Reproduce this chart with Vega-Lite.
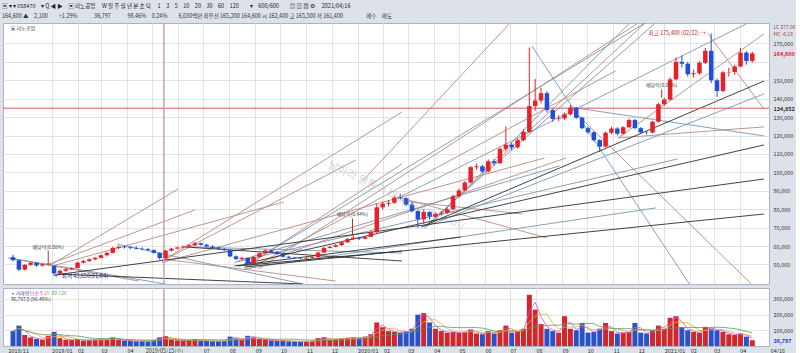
{
"$schema": "https://vega.github.io/schema/vega-lite/v6.json",
"background": "#dde2ea",
"padding": {"left": 2, "right": 0, "top": 3, "bottom": 0},
"spacing": 0,
"title": {"text": "▣ ▾ ▾ 058470　▾ Q ◀ ▶　▣ 리노공업　 W 일 주 월 년 분 초 틱　 1　3　5　10　20　30　60　120　　▾　600/600　　▤ ▥ ▦ ⚙　 2021/04/16", "subtitle": "164,600 ▲　2,100　　+1.29%　　　36,797　　　98.46%　0.24%　　6,030백만 최우선 165,200 164,600 시 162,400 고 165,500 저 161,400　　　　 매수　매도", "anchor": "start", "frame": "bounds", "fontSize": 5.5, "subtitleFontSize": 5.5, "fontWeight": "normal", "color": "#222", "subtitleColor": "#333", "offset": 2, "subtitlePadding": 5, "font": "Noto Sans CJK KR", "subtitleFont": "Noto Sans CJK KR"},
"config": {
  "font": "Noto Sans CJK KR",
  "view": {"fill": "#ffffff", "stroke": "#a9b3c2"},
  "axis": {"labelFontSize": 5.5, "labelColor": "#333", "gridColor": "#e3e3e3", "domain": false, "ticks": false, "labelFont": "Noto Sans CJK KR", "labelOverlap": false}
},
"datasets": {
"px": [
{"d":"2018-11-16","o":54000,"h":55200,"l":51800,"c":52300,"v":95000},
{"d":"2018-11-23","o":52300,"h":52800,"l":46500,"c":47200,"v":130000},
{"d":"2018-11-30","o":47200,"h":50200,"l":46800,"c":49800,"v":70000},
{"d":"2018-12-07","o":49800,"h":51500,"l":49200,"c":50900,"v":55000},
{"d":"2018-12-14","o":50900,"h":51200,"l":48900,"c":49400,"v":45000},
{"d":"2018-12-21","o":49400,"h":50600,"l":48800,"c":50100,"v":40000},
{"d":"2018-12-28","o":50100,"h":51800,"l":49600,"c":50500,"v":65000},
{"d":"2019-01-04","o":49200,"h":49500,"l":43650,"c":45200,"v":90000},
{"d":"2019-01-11","o":45200,"h":47200,"l":44800,"c":46600,"v":50000},
{"d":"2019-01-18","o":46600,"h":48100,"l":46000,"c":47400,"v":40000},
{"d":"2019-01-25","o":47400,"h":48600,"l":46900,"c":48100,"v":38000},
{"d":"2019-02-01","o":48100,"h":51500,"l":47800,"c":51000,"v":45000},
{"d":"2019-02-08","o":51000,"h":52400,"l":50500,"c":51900,"v":35000},
{"d":"2019-02-15","o":51900,"h":53300,"l":51400,"c":52800,"v":38000},
{"d":"2019-02-22","o":52800,"h":54100,"l":52300,"c":53600,"v":40000},
{"d":"2019-03-01","o":53600,"h":55400,"l":53200,"c":55000,"v":42000},
{"d":"2019-03-08","o":55000,"h":56800,"l":54300,"c":56300,"v":40000},
{"d":"2019-03-15","o":56300,"h":59600,"l":56000,"c":59000,"v":55000},
{"d":"2019-03-22","o":59000,"h":60300,"l":58400,"c":59600,"v":40000},
{"d":"2019-03-29","o":59600,"h":60200,"l":58700,"c":59300,"v":35000},
{"d":"2019-04-05","o":59300,"h":60000,"l":58300,"c":58900,"v":33000},
{"d":"2019-04-12","o":59000,"h":59800,"l":58100,"c":58600,"v":30000},
{"d":"2019-04-19","o":58600,"h":59300,"l":57700,"c":58300,"v":32000},
{"d":"2019-04-26","o":58300,"h":58900,"l":57200,"c":57800,"v":30000},
{"d":"2019-05-03","o":57800,"h":58200,"l":55800,"c":56300,"v":38000},
{"d":"2019-05-10","o":56300,"h":56700,"l":52600,"c":53500,"v":55000},
{"d":"2019-05-17","o":53500,"h":57900,"l":53000,"c":57500,"v":62000},
{"d":"2019-05-24","o":57500,"h":59000,"l":57100,"c":58600,"v":40000},
{"d":"2019-05-31","o":58600,"h":59700,"l":58200,"c":59200,"v":35000},
{"d":"2019-06-07","o":59200,"h":60200,"l":58800,"c":59700,"v":33000},
{"d":"2019-06-14","o":59700,"h":61000,"l":59300,"c":60400,"v":38000},
{"d":"2019-06-21","o":60400,"h":62200,"l":60000,"c":61500,"v":45000},
{"d":"2019-06-28","o":61500,"h":61900,"l":60200,"c":60700,"v":34000},
{"d":"2019-07-05","o":60700,"h":61200,"l":59300,"c":59800,"v":32000},
{"d":"2019-07-12","o":59800,"h":60400,"l":58600,"c":59100,"v":30000},
{"d":"2019-07-19","o":59100,"h":59700,"l":58000,"c":58500,"v":31000},
{"d":"2019-07-26","o":58500,"h":58900,"l":57300,"c":57800,"v":33000},
{"d":"2019-08-02","o":57800,"h":58000,"l":53900,"c":54400,"v":60000},
{"d":"2019-08-09","o":54400,"h":54900,"l":52400,"c":53000,"v":48000},
{"d":"2019-08-16","o":53000,"h":54100,"l":52600,"c":53600,"v":40000},
{"d":"2019-08-23","o":53600,"h":53900,"l":49800,"c":50500,"v":65000},
{"d":"2019-08-30","o":50500,"h":54500,"l":50200,"c":54000,"v":55000},
{"d":"2019-09-06","o":54000,"h":56500,"l":53700,"c":56100,"v":45000},
{"d":"2019-09-13","o":56100,"h":58200,"l":55800,"c":57600,"v":40000},
{"d":"2019-09-20","o":57600,"h":58100,"l":56400,"c":56900,"v":35000},
{"d":"2019-09-27","o":56900,"h":57300,"l":55300,"c":55700,"v":33000},
{"d":"2019-10-04","o":55700,"h":56000,"l":53800,"c":54200,"v":36000},
{"d":"2019-10-11","o":54200,"h":54700,"l":53200,"c":53700,"v":30000},
{"d":"2019-10-18","o":53700,"h":54200,"l":52900,"c":53400,"v":28000},
{"d":"2019-10-25","o":53400,"h":53900,"l":52700,"c":53200,"v":27000},
{"d":"2019-11-01","o":53200,"h":54100,"l":52800,"c":53600,"v":30000},
{"d":"2019-11-08","o":53600,"h":54500,"l":53300,"c":54000,"v":32000},
{"d":"2019-11-15","o":54000,"h":57000,"l":53800,"c":56500,"v":50000},
{"d":"2019-11-22","o":56500,"h":59500,"l":56200,"c":59000,"v":55000},
{"d":"2019-11-29","o":59000,"h":60200,"l":58600,"c":59600,"v":40000},
{"d":"2019-12-06","o":59600,"h":61000,"l":59200,"c":60500,"v":42000},
{"d":"2019-12-13","o":60500,"h":62500,"l":60100,"c":62000,"v":48000},
{"d":"2019-12-20","o":62000,"h":64300,"l":61700,"c":63800,"v":52000},
{"d":"2019-12-27","o":63800,"h":65600,"l":63200,"c":64500,"v":55000},
{"d":"2020-01-03","o":64500,"h":65000,"l":63300,"c":64000,"v":50000},
{"d":"2020-01-10","o":64000,"h":65600,"l":63600,"c":65000,"v":60000},
{"d":"2020-01-17","o":65000,"h":68200,"l":64700,"c":67500,"v":75000},
{"d":"2020-01-24","o":67500,"h":83000,"l":67200,"c":81000,"v":150000},
{"d":"2020-01-31","o":81000,"h":84200,"l":79800,"c":83000,"v":120000},
{"d":"2020-02-07","o":83000,"h":85000,"l":81500,"c":83500,"v":95000},
{"d":"2020-02-14","o":83500,"h":87300,"l":83000,"c":86300,"v":90000},
{"d":"2020-02-21","o":86300,"h":88500,"l":85200,"c":86000,"v":85000},
{"d":"2020-02-28","o":86000,"h":86600,"l":81800,"c":82500,"v":95000},
{"d":"2020-03-06","o":82500,"h":84000,"l":78200,"c":79000,"v":110000},
{"d":"2020-03-13","o":79000,"h":79500,"l":70000,"c":74500,"v":200000},
{"d":"2020-03-20","o":74500,"h":79800,"l":72000,"c":78500,"v":210000},
{"d":"2020-03-27","o":78500,"h":79000,"l":74300,"c":76000,"v":150000},
{"d":"2020-04-03","o":76000,"h":78300,"l":75200,"c":77500,"v":110000},
{"d":"2020-04-10","o":77500,"h":79000,"l":76600,"c":78000,"v":95000},
{"d":"2020-04-17","o":78000,"h":80800,"l":77400,"c":80000,"v":85000},
{"d":"2020-04-24","o":80000,"h":87800,"l":79600,"c":87000,"v":90000},
{"d":"2020-05-01","o":87000,"h":91000,"l":86300,"c":90200,"v":85000},
{"d":"2020-05-08","o":90200,"h":95200,"l":89800,"c":94500,"v":90000},
{"d":"2020-05-15","o":94500,"h":103500,"l":94000,"c":102800,"v":105000},
{"d":"2020-05-22","o":102800,"h":104800,"l":101500,"c":103300,"v":80000},
{"d":"2020-05-29","o":103300,"h":104000,"l":99500,"c":100500,"v":75000},
{"d":"2020-06-05","o":100500,"h":107000,"l":100000,"c":106000,"v":95000},
{"d":"2020-06-12","o":106000,"h":107200,"l":103800,"c":105000,"v":80000},
{"d":"2020-06-19","o":105000,"h":113500,"l":104500,"c":112800,"v":100000},
{"d":"2020-06-26","o":112800,"h":125000,"l":111500,"c":115000,"v":130000},
{"d":"2020-07-03","o":115000,"h":116000,"l":112000,"c":113600,"v":85000},
{"d":"2020-07-10","o":113600,"h":118500,"l":113000,"c":117500,"v":90000},
{"d":"2020-07-17","o":117500,"h":123500,"l":116800,"c":122000,"v":110000},
{"d":"2020-07-24","o":122000,"h":167800,"l":121500,"c":136000,"v":327000},
{"d":"2020-07-31","o":136000,"h":150700,"l":133500,"c":139000,"v":232000},
{"d":"2020-08-07","o":139000,"h":146000,"l":137500,"c":143000,"v":140000},
{"d":"2020-08-14","o":143000,"h":144000,"l":132500,"c":133800,"v":110000},
{"d":"2020-08-21","o":133800,"h":134500,"l":127500,"c":129000,"v":95000},
{"d":"2020-08-28","o":129000,"h":131000,"l":127800,"c":129300,"v":85000},
{"d":"2020-09-04","o":129300,"h":132500,"l":128500,"c":131500,"v":190000},
{"d":"2020-09-11","o":131500,"h":136500,"l":130800,"c":135000,"v":110000},
{"d":"2020-09-18","o":135000,"h":135600,"l":129000,"c":129700,"v":100000},
{"d":"2020-09-25","o":129700,"h":130300,"l":123500,"c":124000,"v":147000},
{"d":"2020-10-02","o":124000,"h":124800,"l":121000,"c":121800,"v":85000},
{"d":"2020-10-09","o":121800,"h":122300,"l":116800,"c":117500,"v":90000},
{"d":"2020-10-16","o":117500,"h":118000,"l":111000,"c":114000,"v":110000},
{"d":"2020-10-23","o":114000,"h":122200,"l":113500,"c":121500,"v":147000},
{"d":"2020-10-30","o":121500,"h":124800,"l":120800,"c":123800,"v":95000},
{"d":"2020-11-06","o":123800,"h":124500,"l":120200,"c":121000,"v":80000},
{"d":"2020-11-13","o":121000,"h":125000,"l":120500,"c":124500,"v":85000},
{"d":"2020-11-20","o":124500,"h":129200,"l":124000,"c":128400,"v":90000},
{"d":"2020-11-27","o":128400,"h":129000,"l":123500,"c":124000,"v":147000},
{"d":"2020-12-04","o":124000,"h":124600,"l":121000,"c":121700,"v":85000},
{"d":"2020-12-11","o":121700,"h":122500,"l":120500,"c":121600,"v":80000},
{"d":"2020-12-18","o":121600,"h":128000,"l":121200,"c":127500,"v":100000},
{"d":"2020-12-25","o":127500,"h":137800,"l":127000,"c":137000,"v":130000},
{"d":"2021-01-01","o":137000,"h":140500,"l":136000,"c":139500,"v":110000},
{"d":"2021-01-08","o":139500,"h":151500,"l":139000,"c":150500,"v":180000},
{"d":"2021-01-15","o":150500,"h":162500,"l":150000,"c":160000,"v":190000},
{"d":"2021-01-22","o":160000,"h":163500,"l":157000,"c":159000,"v":120000},
{"d":"2021-01-29","o":159000,"h":160000,"l":152000,"c":153300,"v":100000},
{"d":"2021-02-05","o":153300,"h":155800,"l":151500,"c":153800,"v":90000},
{"d":"2021-02-12","o":153800,"h":160500,"l":153000,"c":159500,"v":85000},
{"d":"2021-02-19","o":159500,"h":167500,"l":158800,"c":166000,"v":122000},
{"d":"2021-02-26","o":166000,"h":175400,"l":148500,"c":150000,"v":110000},
{"d":"2021-03-05","o":150000,"h":151000,"l":141000,"c":144200,"v":100000},
{"d":"2021-03-12","o":144200,"h":155000,"l":143500,"c":154300,"v":90000},
{"d":"2021-03-19","o":154300,"h":156800,"l":152000,"c":154500,"v":75000},
{"d":"2021-03-26","o":154500,"h":158500,"l":153000,"c":157500,"v":70000},
{"d":"2021-04-02","o":157500,"h":167500,"l":157000,"c":165000,"v":80000},
{"d":"2021-04-09","o":165000,"h":165800,"l":158500,"c":160500,"v":60000},
{"d":"2021-04-16","o":160500,"h":165500,"l":159500,"c":164600,"v":36797}
],
"ln": [
{"a":"2018-12-29","pa":49200,"b":"2019-06-01","pb":91000,"k":"r"},
{"a":"2018-12-30","pa":50300,"b":"2019-06-21","pb":79600,"k":"r"},
{"a":"2019-01-02","pa":49200,"b":"2019-10-05","pb":83900,"k":"r"},
{"a":"2019-05-13","pa":51900,"b":"2020-02-23","pb":132800,"k":"r"},
{"a":"2019-05-13","pa":51900,"b":"2019-12-30","pb":106700,"k":"r"},
{"a":"2019-08-22","pa":49200,"b":"2020-02-23","pb":104600,"k":"r"},
{"a":"2020-01-07","pa":95300,"b":"2020-07-01","pb":181100,"k":"r"},
{"a":"2020-03-21","pa":69800,"b":"2020-12-09","pb":181100,"k":"r"},
{"a":"2019-08-25","pa":47600,"b":"2020-11-04","pb":155100,"k":"r"},
{"a":"2019-08-25","pa":49200,"b":"2020-09-06","pb":107800,"k":"r"},
{"a":"2019-05-13","pa":51100,"b":"2020-08-11","pb":107800,"k":"r"},
{"a":"2020-11-07","pa":118700,"b":"2021-04-30","pb":124700,"k":"r"},
{"a":"2020-11-07","pa":118700,"b":"2021-04-30","pb":175200,"k":"r"},
{"a":"2021-02-22","pa":175400,"b":"2021-04-30","pb":134400,"k":"r"},
{"a":"2020-09-10","pa":135500,"b":"2021-04-15","pb":39400,"k":"r"},
{"a":"2018-11-10","pa":53500,"b":"2019-04-15","pb":41000,"k":"r"},
{"a":"2019-05-13","pa":53000,"b":"2019-12-06","pb":41000,"k":"r"},
{"a":"2019-09-05","pa":47600,"b":"2020-12-01","pb":181100,"k":"r"},
{"a":"2020-02-23","pa":84500,"b":"2020-07-16","pb":77400,"k":"r"},
{"a":"2020-02-17","pa":86700,"b":"2020-08-14","pb":64400,"k":"r"},
{"a":"2018-11-12","pa":53500,"b":"2019-05-17","pb":39400,"k":"b"},
{"a":"2019-03-20","pa":61100,"b":"2019-10-28","pb":39400,"k":"b"},
{"a":"2019-06-18","pa":59500,"b":"2020-02-23","pb":56200,"k":"b"},
{"a":"2020-07-27","pa":168600,"b":"2021-01-31","pb":39400,"k":"b"},
{"a":"2020-09-10","pa":135500,"b":"2021-04-30","pb":119800,"k":"b"},
{"a":"2020-03-21","pa":70400,"b":"2021-04-30","pb":142600,"k":"b"},
{"a":"2020-02-23","pa":87200,"b":"2021-04-30","pb":185500,"k":"b"},
{"a":"2020-03-21","pa":70400,"b":"2020-12-24","pb":182200,"k":"b"},
{"a":"2020-03-29","pa":72000,"b":"2020-11-23","pb":182200,"k":"b"},
{"a":"2019-08-07","pa":51100,"b":"2021-01-17","pb":107300,"k":"b"},
{"a":"2019-08-19","pa":47600,"b":"2020-12-22","pb":80700,"k":"b"},
{"a":"2019-08-11","pa":51900,"b":"2020-08-29","pb":103500,"k":"b"},
{"a":"2019-08-22","pa":49700,"b":"2020-12-13","pb":182200,"k":"b"},
{"a":"2020-03-17","pa":70400,"b":"2021-04-30","pb":149600,"k":"k"},
{"a":"2019-08-19","pa":50300,"b":"2021-04-30","pb":114900,"k":"k"},
{"a":"2019-01-05","pa":44300,"b":"2021-04-30","pb":96400,"k":"k"},
{"a":"2019-08-19","pa":48600,"b":"2021-04-30","pb":77400,"k":"k"},
{"a":"2019-08-07","pa":49200,"b":"2020-05-03","pb":64900,"k":"k"},
{"a":"2019-06-09","pa":59500,"b":"2020-02-23","pb":51900,"k":"k"},
{"a":"2019-01-08","pa":44800,"b":"2019-10-28","pb":39400,"k":"k"},
{"a":"2019-08-11","pa":49200,"b":"2020-02-23","pb":57300,"k":"k"}
],
"dv": [
{"d":"2018-12-28","p":57500,"q":51800,"t":"배당락(0.08%)"},
{"d":"2019-12-26","p":75000,"q":65600,"t":"배당락(0.44%)"},
{"d":"2020-12-29","p":145000,"q":140500,"t":"배당락(0.05%)"}
]
},
"vconcat": [
{
"width": 766, "height": 261,
"resolve": {"axis": {"x": "independent", "y": "independent"}},
"layer": [
{"data": {"name": "ln"}, "mark": {"type": "rule", "clip": true, "strokeWidth": 0.9},
 "encoding": {
  "x": {"field": "a", "type": "temporal", "scale": {"domain": [{"year":2018,"month":11,"date":10},{"year":2021,"month":4,"date":30}], "nice": false},
        "axis": {"orient": "bottom", "labels": false, "grid": true, "title": null, "values": [{"year":2019,"month":1,"date":1},{"year":2019,"month":2,"date":1},{"year":2019,"month":3,"date":1},{"year":2019,"month":4,"date":1},{"year":2019,"month":5,"date":1},{"year":2019,"month":6,"date":1},{"year":2019,"month":7,"date":1},{"year":2019,"month":8,"date":1},{"year":2019,"month":9,"date":1},{"year":2019,"month":10,"date":1},{"year":2019,"month":11,"date":1},{"year":2019,"month":12,"date":1},{"year":2020,"month":1,"date":1},{"year":2020,"month":2,"date":1},{"year":2020,"month":3,"date":1},{"year":2020,"month":4,"date":1},{"year":2020,"month":5,"date":1},{"year":2020,"month":6,"date":1},{"year":2020,"month":7,"date":1},{"year":2020,"month":8,"date":1},{"year":2020,"month":9,"date":1},{"year":2020,"month":10,"date":1},{"year":2020,"month":11,"date":1},{"year":2020,"month":12,"date":1},{"year":2021,"month":1,"date":1},{"year":2021,"month":2,"date":1},{"year":2021,"month":3,"date":1},{"year":2021,"month":4,"date":1}]}},
  "x2": {"field": "b"},
  "y": {"field": "pa", "type": "quantitative", "scale": {"domain": [39400, 181100], "nice": false, "zero": false},
        "axis": {"orient": "right", "grid": true, "format": ",d", "labelPadding": 4, "labelOverlap": false,
                 "values": [50000,60000,70000,80000,90000,100000,110000,120000,130000,140000,150000,160000,170000,164600,134852],
                 "title": ["LC 277.96", "HC -6.16"], "titleAngle": 0, "titleAlign": "left", "titleBaseline": "top", "titleX": 4, "titleY": 1, "titleFontSize": 5, "titleFontWeight": "normal", "titleColor": "#b03040",
                 "labelOpacity": {"condition": {"test": "datum.value == 160000", "value": 0}, "value": 1},
                 "labelColor": {"condition": {"test": "datum.value == 164600", "value": "#e0202a"}, "value": "#333333"},
                 "labelFontWeight": {"condition": {"test": "datum.value == 164600 || datum.value == 134852", "value": "bold"}, "value": "normal"},
                 "gridOpacity": {"condition": {"test": "datum.value == 164600 || datum.value == 134852", "value": 0}, "value": 1}}},
  "y2": {"field": "pb"},
  "color": {"field": "k", "type": "nominal", "scale": {"domain": ["r","b","k"], "range": ["#b98a80","#7897b0","#2e2e2e"]}, "legend": null}
 }},
{"data": {"values": [{}]}, "mark": {"type": "rule", "color": "#d05a5a", "strokeWidth": 1}, "encoding": {"y": {"datum": 134852, "type": "quantitative", "axis": null}}},
{"data": {"values": [{}]}, "mark": {"type": "rule", "color": "#cfa0a0", "strokeWidth": 1.5}, "encoding": {"x": {"datum": {"year":2019,"month":5,"date":15}, "type": "temporal", "axis": null}}},
{"data": {"name": "px"}, "mark": {"type": "rule", "strokeWidth": 1},
 "encoding": {
  "x": {"field": "d", "type": "temporal", "axis": null},
  "y": {"field": "l", "type": "quantitative", "axis": null},
  "y2": {"field": "h"},
  "color": {"condition": {"test": "datum.c >= datum.o", "value": "#e8202a"}, "value": "#1f4fd8"}
 }},
{"data": {"name": "px"}, "mark": {"type": "bar", "size": 4.5},
 "encoding": {
  "x": {"field": "d", "type": "temporal", "axis": null},
  "y": {"field": "o", "type": "quantitative", "axis": null},
  "y2": {"field": "c"},
  "color": {"condition": {"test": "datum.c >= datum.o", "value": "#e8202a"}, "value": "#1f4fd8"}
 }},
{"data": {"name": "dv"}, "mark": {"type": "rule", "color": "#b03030", "strokeWidth": 1},
 "encoding": {"x": {"field": "d", "type": "temporal", "axis": null}, "y": {"field": "q", "type": "quantitative", "axis": null}, "y2": {"field": "p"}}},
{"data": {"name": "dv"}, "mark": {"type": "text", "fontSize": 5, "color": "#444", "baseline": "bottom", "dy": -1},
 "encoding": {"x": {"field": "d", "type": "temporal", "axis": null}, "y": {"field": "p", "type": "quantitative", "axis": null}, "text": {"field": "t"}}},
{"data": {"values": [{}]}, "mark": {"type": "text", "align": "left", "baseline": "middle", "dx": 1, "fontSize": 5.5, "color": "#1c2478", "text": "← 최저 43,650(01/04)"},
 "encoding": {"x": {"datum": {"year":2019,"month":1,"date":4}, "type": "temporal", "axis": null}, "y": {"datum": 43650, "type": "quantitative", "axis": null}}},
{"data": {"values": [{}]}, "mark": {"type": "text", "align": "right", "baseline": "middle", "dx": -2, "fontSize": 5.5, "color": "#c8202a", "text": "최고 175,400 (02/22) →"},
 "encoding": {"x": {"datum": {"year":2021,"month":2,"date":22}, "type": "temporal", "axis": null}, "y": {"datum": 175400, "type": "quantitative", "axis": null}}},
{"data": {"values": [{}]}, "mark": {"type": "text", "angle": 25, "fontSize": 11, "color": "#8a90a8", "opacity": 0.35, "align": "center", "baseline": "middle", "text": "날아라 알통이 blog.naver.com/"},
 "encoding": {"x": {"datum": {"year":2020,"month":2,"date":16}, "type": "temporal", "axis": null}, "y": {"datum": 87000, "type": "quantitative", "axis": null}}},
{"data": {"values": [{}]}, "mark": {"type": "text", "align": "left", "baseline": "middle", "fontSize": 5, "color": "#333", "text": "▣ 리노공업"},
 "encoding": {"x": {"datum": {"year":2018,"month":11,"date":13}, "type": "temporal", "axis": null}, "y": {"datum": 178500, "type": "quantitative", "axis": null}}}
]
},
{
"width": 766, "height": 58,
"resolve": {"axis": {"x": "independent", "y": "independent"}},
"layer": [
{"data": {"values": [{}]}, "mark": {"type": "rule", "color": "#cfa0a0", "strokeWidth": 1.5}, "encoding": {"x": {"datum": {"year":2019,"month":5,"date":15}, "type": "temporal", "axis": null}}},
{"data": {"name": "px"}, "mark": {"type": "bar", "size": 5},
 "encoding": {
  "x": {"field": "d", "type": "temporal", "scale": {"domain": [{"year":2018,"month":11,"date":10},{"year":2021,"month":4,"date":30}], "nice": false},
        "axis": {"orient": "bottom", "grid": true, "title": null, "labelPadding": 2, "labelFlush": false, "labelOverlap": false, "labelBound": false,
                 "values": [{"year":2018,"month":11,"date":10},{"year":2019,"month":1,"date":1},{"year":2019,"month":2,"date":1},{"year":2019,"month":3,"date":1},{"year":2019,"month":4,"date":1},{"year":2019,"month":5,"date":1},{"year":2019,"month":5,"date":15},{"year":2019,"month":6,"date":1},{"year":2019,"month":7,"date":1},{"year":2019,"month":8,"date":1},{"year":2019,"month":9,"date":1},{"year":2019,"month":10,"date":1},{"year":2019,"month":11,"date":1},{"year":2019,"month":12,"date":1},{"year":2020,"month":1,"date":1},{"year":2020,"month":2,"date":1},{"year":2020,"month":3,"date":1},{"year":2020,"month":4,"date":1},{"year":2020,"month":5,"date":1},{"year":2020,"month":6,"date":1},{"year":2020,"month":7,"date":1},{"year":2020,"month":8,"date":1},{"year":2020,"month":9,"date":1},{"year":2020,"month":10,"date":1},{"year":2020,"month":11,"date":1},{"year":2020,"month":12,"date":1},{"year":2021,"month":1,"date":1},{"year":2021,"month":2,"date":1},{"year":2021,"month":3,"date":1},{"year":2021,"month":4,"date":1},{"year":2021,"month":4,"date":16}],
                 "labelExpr": "date(datum.value) == 15 ? '2019/05/15(수)' : date(datum.value) == 16 ? '04/16' : date(datum.value) == 10 ? '2018/11' : (year(datum.value) == 2019 && (month(datum.value) == 4 || month(datum.value) == 5)) ? '' : month(datum.value) == 0 ? timeFormat(datum.value, '%Y/%m') : timeFormat(datum.value, '%m')",
                 "labelAlign": {"condition": {"test": "date(datum.value) == 15", "value": "center"}, "value": "left"},
                 "labelOffset": {"condition": {"test": "date(datum.value) == 16", "value": 18}, "value": 0},
                 "gridOpacity": {"condition": {"test": "date(datum.value) == 15 || date(datum.value) == 16 || date(datum.value) == 10", "value": 0}, "value": 1}}},
  "y": {"field": "v", "type": "quantitative", "scale": {"domain": [0, 370000], "nice": false},
        "axis": {"orient": "right", "grid": true, "format": ",d", "labelPadding": 4, "labelOverlap": false, "title": null,
                 "values": [100000, 200000, 300000, 36797],
                 "labelColor": {"condition": {"test": "datum.value == 36797", "value": "#1646c8"}, "value": "#333333"},
                 "labelFontWeight": {"condition": {"test": "datum.value == 36797", "value": "bold"}, "value": "normal"},
                 "gridOpacity": {"condition": {"test": "datum.value == 36797", "value": 0}, "value": 1}}},
  "color": {"condition": {"test": "datum.c >= datum.o", "value": "#d0262c"}, "value": "#2a52c8"}
 }},
{"data": {"name": "px"}, "transform": [{"window": [{"op": "mean", "field": "v", "as": "m"}], "frame": [-1, 0], "sort": [{"field": "d"}]}],
 "mark": {"type": "line", "color": "#d050c8", "strokeWidth": 0.8},
 "encoding": {"x": {"field": "d", "type": "temporal", "axis": null}, "y": {"field": "m", "type": "quantitative", "axis": null}}},
{"data": {"name": "px"}, "transform": [{"window": [{"op": "mean", "field": "v", "as": "m"}], "frame": [-3, 0], "sort": [{"field": "d"}]}],
 "mark": {"type": "line", "color": "#e2b040", "strokeWidth": 0.8},
 "encoding": {"x": {"field": "d", "type": "temporal", "axis": null}, "y": {"field": "m", "type": "quantitative", "axis": null}}},
{"data": {"name": "px"}, "transform": [{"window": [{"op": "mean", "field": "v", "as": "m"}], "frame": [-11, 0], "sort": [{"field": "d"}]}],
 "mark": {"type": "line", "color": "#4fa060", "strokeWidth": 0.8},
 "encoding": {"x": {"field": "d", "type": "temporal", "axis": null}, "y": {"field": "m", "type": "quantitative", "axis": null}}},
{"data": {"values": [{}]}, "mark": {"type": "text", "align": "left", "baseline": "middle", "fontSize": 5, "color": "#3a4ab0", "text": "▪거래량"},
 "encoding": {"x": {"datum": {"year":2018,"month":11,"date":13}, "type": "temporal", "axis": null}, "y": {"datum": 338000, "type": "quantitative", "axis": null}}},
{"data": {"values": [{}]}, "mark": {"type": "text", "align": "left", "baseline": "middle", "fontSize": 5, "color": "#c040c0", "text": "단순 5"},
 "encoding": {"x": {"datum": {"year":2018,"month":12,"date":6}, "type": "temporal", "axis": null}, "y": {"datum": 338000, "type": "quantitative", "axis": null}}},
{"data": {"values": [{}]}, "mark": {"type": "text", "align": "left", "baseline": "middle", "fontSize": 5, "color": "#d0a020", "text": "20"},
 "encoding": {"x": {"datum": {"year":2018,"month":12,"date":23}, "type": "temporal", "axis": null}, "y": {"datum": 338000, "type": "quantitative", "axis": null}}},
{"data": {"values": [{}]}, "mark": {"type": "text", "align": "left", "baseline": "middle", "fontSize": 5, "color": "#40a040", "text": "60"},
 "encoding": {"x": {"datum": {"year":2019,"month":1,"date":1}, "type": "temporal", "axis": null}, "y": {"datum": 338000, "type": "quantitative", "axis": null}}},
{"data": {"values": [{}]}, "mark": {"type": "text", "align": "left", "baseline": "middle", "fontSize": 5, "color": "#909090", "text": "120"},
 "encoding": {"x": {"datum": {"year":2019,"month":1,"date":9}, "type": "temporal", "axis": null}, "y": {"datum": 338000, "type": "quantitative", "axis": null}}},
{"data": {"values": [{}]}, "mark": {"type": "text", "align": "left", "baseline": "middle", "fontSize": 5, "color": "#333333", "text": "36,797주(98.46%)"},
 "encoding": {"x": {"datum": {"year":2018,"month":11,"date":13}, "type": "temporal", "axis": null}, "y": {"datum": 300000, "type": "quantitative", "axis": null}}}
]
}
]
}
